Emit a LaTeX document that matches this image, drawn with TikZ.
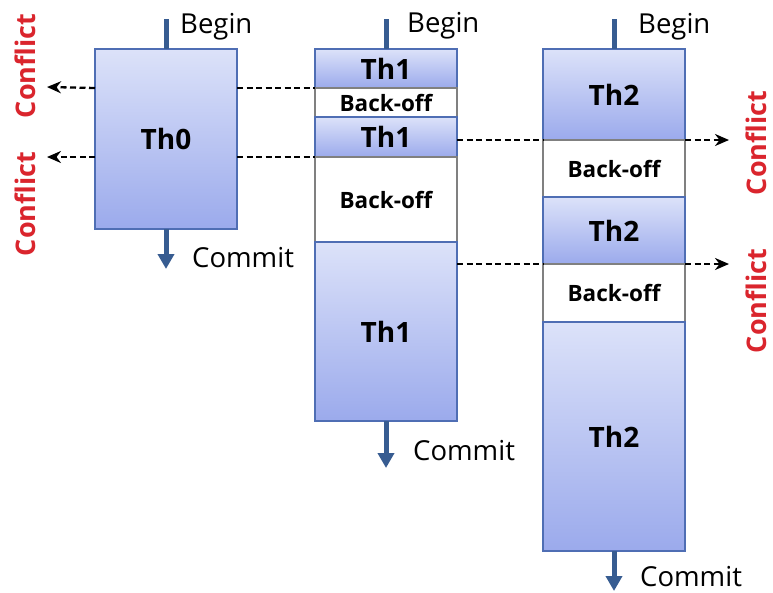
\documentclass[tikz,border=0pt]{standalone}
\usepackage{fontspec}
\setmainfont{Open Sans}
\usetikzlibrary{arrows.meta}

\definecolor{boxedge}{RGB}{79,110,180}
\definecolor{boxtop}{RGB}{220,226,249}
\definecolor{boxbot}{RGB}{155,170,236}
\definecolor{flow}{RGB}{55,92,145}
\definecolor{conflictred}{RGB}{218,37,45}
\definecolor{backedge}{RGB}{128,128,128}

\tikzset{
  thbox/.style={draw=boxedge, line width=2.6pt, top color=boxtop, bottom color=boxbot,
    anchor=north west, minimum width=142pt, inner sep=0pt, outer sep=0pt,
    font=\fontsize{28}{30}\selectfont\bfseries},
  backbox/.style={draw=backedge, line width=2.6pt, fill=white,
    anchor=north west, minimum width=142pt, inner sep=0pt, outer sep=0pt,
    font=\fontsize{22.5}{24}\selectfont\bfseries},
  flowline/.style={draw=flow, line width=5pt},
  commitarrow/.style={flowline, -{Triangle[width=16pt,length=15pt]}},
  conflictlink/.style={draw=black, line width=2.3pt, dash pattern=on 6pt off 3.5pt},
  conflictarrow/.style={conflictlink, -{Stealth[length=14pt,width=12pt,inset=4.5pt]}},
  tag/.style={inner sep=0pt, anchor=base west, font=\fontsize{27.5}{30}\selectfont},
  conflict/.style={inner sep=0pt, rotate=90, anchor=base, text=conflictred,
    font=\fontsize{27}{30}\selectfont\bfseries},
}

\begin{document}
\begin{tikzpicture}[x=1pt,y=-1pt]
\useasboundingbox (0,0) rectangle (773,592);

% Thread 0
\node[thbox, minimum height=180pt] (th0) at (95,49) {Th0};

% Thread 1: work / back-off stack
\node[thbox, minimum height=39pt] (th1a) at (315,49) {Th1};
\node[backbox, minimum height=29pt] (bk1a) at (315,88) {Back-off};
\node[thbox, minimum height=40pt] (th1b) at (315,117) {Th1};
\node[backbox, minimum height=85pt] (bk1b) at (315,157) {Back-off};
\node[thbox, minimum height=179pt] (th1c) at (315,242) {Th1};

% Thread 2: work / back-off stack
\node[thbox, minimum height=91pt] (th2a) at (543,49) {Th2};
\node[backbox, minimum height=57pt] (bk2a) at (543,140) {Back-off};
\node[thbox, minimum height=67pt] (th2b) at (543,197) {Th2};
\node[backbox, minimum height=58pt] (bk2b) at (543,264) {Back-off};
\node[thbox, minimum height=229pt] (th2c) at (543,322) {Th2};

% Begin / commit markers
\coordinate (b0) at (166,19);
\coordinate (b1) at (386,19);
\coordinate (b2) at (614,19);
\coordinate (c0) at (166,269);
\coordinate (c1) at (386,468);
\coordinate (c2) at (614,591);

\draw[flowline] (b0) -- (th0.north);
\draw[flowline] (b1) -- (th1a.north);
\draw[flowline] (b2) -- (th2a.north);
\draw[commitarrow] (th0.south) -- (c0);
\draw[commitarrow] (th1c.south) -- (c1);
\draw[commitarrow] (th2c.south) -- (c2);

\node[tag] (lb0) at (180,33) {Begin};
\node[tag] (lb1) at (407,32) {Begin};
\node[tag] (lb2) at (638,33) {Begin};
\node[tag] (lc0) at (192,267) {Commit};
\node[tag] (lc1) at (413,460) {Commit};
\node[tag] (lc2) at (640,586) {Commit};

% Conflicts between Th0 and Th1
\coordinate (l1) at (47,87);
\coordinate (l2) at (47,157);
\draw[conflictlink] (th0.east |- th1a.south) -- (th1a.south west);
\draw[conflictarrow] (th0.west |- th1a.south) -- (l1);
\draw[conflictlink] (th0.east |- th1b.south) -- (th1b.south west);
\draw[conflictarrow] (th0.west |- th1b.south) -- (l2);

% Conflicts between Th1 and Th2
\coordinate (r1) at (729,140);
\coordinate (r2) at (729,264);
\draw[conflictlink] (th1b.east |- th2a.south) -- (th2a.south west);
\draw[conflictarrow] (th2a.south east) -- (r1);
\draw[conflictlink] (th1c.east |- th2b.south) -- (th2b.south west);
\draw[conflictarrow] (th2b.south east) -- (r2);

\node[conflict] (cf1) at (35,66) {Conflict};
\node[conflict] (cf2) at (35,204) {Conflict};
\node[conflict] (cf3) at (766,143) {Conflict};
\node[conflict] (cf4) at (766,301) {Conflict};
\end{tikzpicture}
\end{document}
